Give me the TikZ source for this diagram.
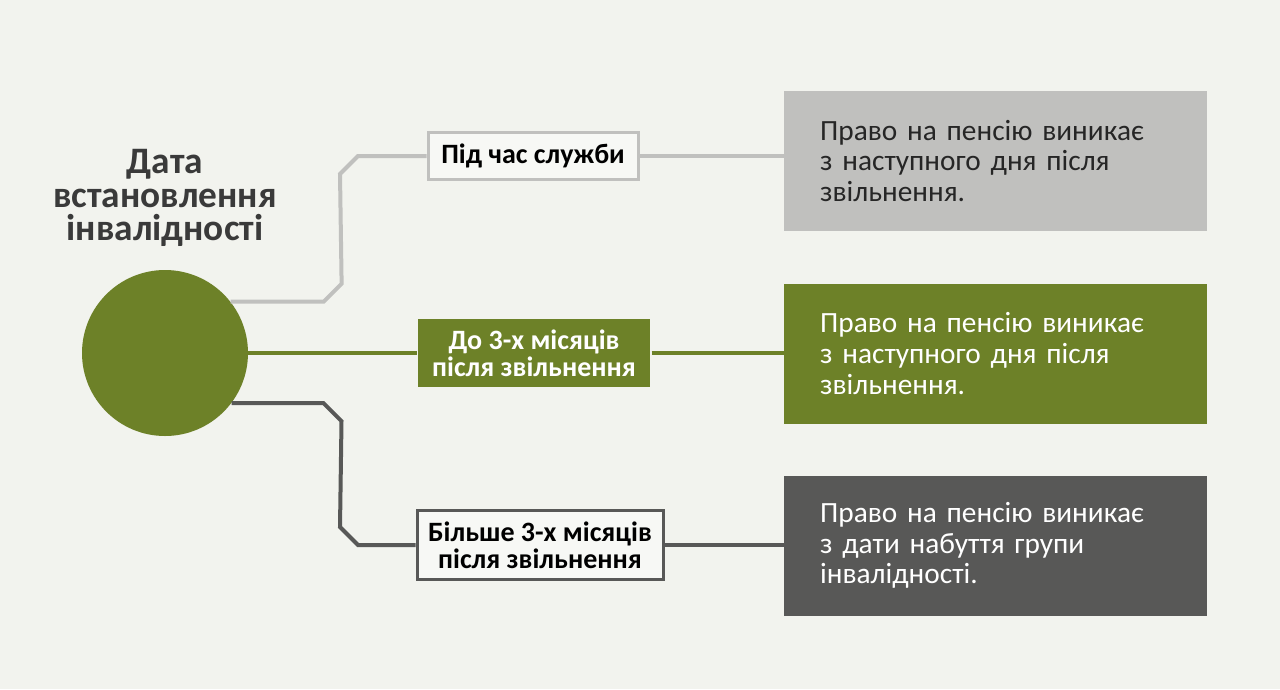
\documentclass[tikz,border=0pt]{standalone}
\usepackage{fontspec}
\setmainfont{Carlito}
\usetikzlibrary{positioning}

\definecolor{bg}{RGB}{242,243,238}
\definecolor{olive}{RGB}{109,129,40}
\definecolor{lite}{RGB}{192,192,190}
\definecolor{dark}{RGB}{88,88,87}
\definecolor{ink}{RGB}{58,58,58}

\begin{document}
\begin{tikzpicture}[x=0.75pt,y=-0.75pt,
  period/.style={rectangle,inner sep=0pt,align=center,font=\bfseries\fontsize{21}{20.5}\selectfont,line width=2.25pt},
  result/.style={rectangle,inner ysep=0pt,inner xsep=27pt,text width=263pt,minimum height=105pt,align=left,font=\fontsize{22}{23}\selectfont},
  link/.style={line width=3pt}]
\useasboundingbox[fill=bg] (0,0) rectangle (1280,689);

\node[circle,fill=olive,minimum size=124.5pt,inner sep=0pt] (D) at (165,353) {};
\node[align=center,text=ink,font=\bfseries\fontsize{28}{25}\selectfont] (T) at (165,198) {Дата\\встановлення\\інвалідності};

% periods
\node[period,draw=lite,fill=bg!60!white,minimum width=157.5pt,minimum height=35.25pt] (P1) at (533,156) {Під час служби};
\node[period,fill=olive,text=white,minimum width=174pt,minimum height=51pt] (P2) at (534,353) {До 3-х місяців\\після звільнення};
\node[period,draw=dark,fill=bg!60!white,minimum width=184.5pt,minimum height=51.75pt] (P3) at (540,545) {Більше 3-х місяців\\після звільнення};

% results
\node[result,fill=lite,text=black!85] (R1) at (995.5,161) {Право на пенсію виникає\\з наступного дня після\\звільнення.};
\node[result,fill=olive,text=white] (R2) at (995.5,353.5) {Право на пенсію виникає\\з наступного дня після\\звільнення.};
\node[result,fill=dark,text=white] (R3) at (995.5,545.5) {Право на пенсію виникає\\з дати набуття групи\\інвалідності.};

% connectors
\draw[link,lite] (D.38) -- ++(93,0) -- ++(18,-18) -- (340,174) -- (358,156) -- (P1.west);
\draw[link,lite] (P1.east) -- (P1.east -| R1.west);
\draw[link,olive] (D.east) -- (P2.west);
\draw[link,olive] (P2.east) -- (P2.east -| R2.west);
\draw[link,dark] (D.-37) -- ++(92,0) -- ++(18,18) -- (340,527) -- (358,545) -- (P3.west);
\draw[link,dark] (P3.east) -- (P3.east -| R3.west);
\end{tikzpicture}
\end{document}
